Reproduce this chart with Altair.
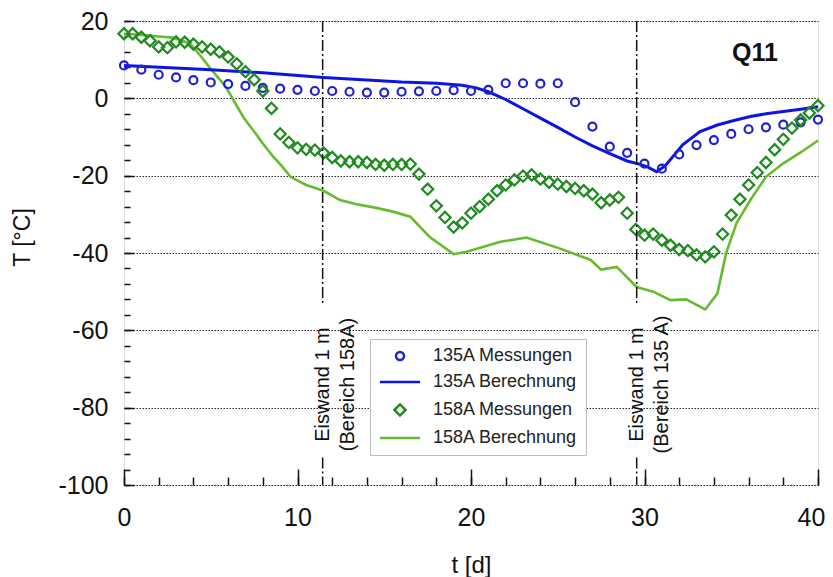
import altair as alt
import pandas as pd

# ---------------- data ----------------
series_names = ["135A Messungen", "135A Berechnung", "158A Messungen", "158A Berechnung"]

t_135_mess = [0, 1, 2, 3, 4, 5, 6, 7, 8, 9, 10, 11, 12, 13, 14, 15, 16, 17, 18, 19, 20,
              21, 22, 23, 24, 25, 26, 27, 28, 29, 30, 31, 32, 33, 34, 35, 36, 37, 38, 39, 40]
T_135_mess = [8.5, 7.4, 6.1, 5.4, 4.7, 4.1, 3.7, 3.2, 2.7, 2.5, 2.2, 1.9, 1.9, 1.7, 1.5, 1.5,
              1.7, 1.8, 1.9, 2.1, 1.9, 2.2, 3.9, 3.9, 3.8, 3.9, -1.0, -7.3, -12.5, -14.1,
              -16.9, -18.2, -14.5, -12.1, -10.8, -9.2, -8.0, -7.5, -6.8, -6.2, -5.5]

t_135_calc = [0, 5, 8, 11.5, 16, 18, 19.5, 20.3, 21, 22, 23, 24, 25, 26, 27, 28, 29, 29.7,
              30.2, 30.7, 31.2, 32.2, 33.2, 34.2, 35.1, 36.1, 37, 38, 39, 40]
T_135_calc = [8.5, 7.4, 6.6, 5.4, 4.2, 3.9, 3.4, 2.7, 1.7, -0.3, -2.7, -5.1, -7.5, -10.0,
              -12.3, -14.3, -16.2, -17.0, -17.8, -19.0, -17.4, -12.0, -8.6, -6.9, -5.8,
              -4.7, -4.0, -3.4, -2.8, -2.2]

t_158_mess = [0, 0.5, 1, 1.5, 2, 2.5, 3, 3.5, 4, 4.5, 5, 5.5, 6, 6.5, 7, 7.5, 8, 8.5, 9, 9.5,
              10, 10.5, 11, 11.5, 12, 12.5, 13, 13.5, 14, 14.5, 15, 15.5, 16, 16.5, 17, 17.5,
              18, 18.5, 19, 19.5, 20, 20.5, 21, 21.5, 22, 22.5, 23, 23.5, 24, 24.5, 25, 25.5,
              26, 26.5, 27, 27.5, 28, 28.5, 29, 29.5, 30, 30.5, 31, 31.5, 32, 32.5, 33, 33.5,
              34, 34.5, 35, 35.5, 36, 36.5, 37, 37.5, 38, 38.5, 39, 39.5, 40]
T_158_mess = [16.7, 16.7, 15.8, 14.9, 13.3, 13.1, 14.6, 14.5, 14.0, 13.3, 12.7, 12.0, 10.7,
              8.9, 6.9, 4.8, 1.9, -2.6, -9.2, -11.4, -12.8, -13.2, -13.4, -14.1, -15.3, -16.2,
              -16.4, -16.4, -16.6, -17.1, -17.3, -17.1, -17.1, -17.0, -19.6, -23.5, -27.8,
              -30.8, -33.3, -32.2, -29.7, -28.0, -26.1, -23.9, -22.4, -21.1, -20.1, -19.8,
              -20.9, -21.7, -22.2, -22.8, -23.3, -23.9, -24.8, -27.0, -26.3, -25.6, -29.7,
              -33.9, -35.4, -35.1, -36.7, -38.0, -39.1, -39.4, -40.5, -41.0, -39.7, -35.1,
              -30.2, -26.1, -22.4, -19.2, -16.6, -13.3, -10.6, -7.7, -5.6, -3.8, -1.9]

t_158_calc = [0, 1, 2, 2.8, 3.8, 4.5, 5.0, 5.9, 6.3, 6.9, 7.65, 8.0, 8.6, 9.0, 9.6, 10.5,
              11.5, 12.45, 13.4, 14.4, 15.5, 16.5, 17.6, 19.0, 19.75, 21.7, 23.2, 25.1, 26.9,
              27.5, 28.4, 29.55, 30.5, 31.5, 32.4, 33.5, 34.2, 34.7, 35.3, 36.1, 37.0, 38.0,
              39.0, 40.0]
T_158_calc = [16.7, 16.4, 16.0, 15.7, 14.2, 10.5, 7.6, 2.8, -0.4, -5.0, -9.5, -11.7, -15.1,
              -17.0, -20.3, -22.4, -23.9, -26.3, -27.4, -28.2, -29.3, -30.6, -35.8, -40.3,
              -39.7, -37.1, -36.0, -38.8, -41.8, -44.3, -43.6, -48.8, -50.0, -52.2, -52.0,
              -54.6, -50.5, -40.1, -32.3, -26.3, -20.3, -16.8, -14.0, -10.9]

# vertical markers "Eiswand 1 m"
marker_t = [11.45, 29.55]
marker_text = ["Eiswand 1 m\n(Bereich 158A)", "Eiswand 1 m\n(Bereich 135 A)"]
marker_text_T = [-74, -74]
marker_seg_top = [20, -53.5]      # upper dash-dot piece (T from, T to)
marker_seg_bottom = [-92.9, -100]  # lower dash-dot piece

x_label_values = [0, 10, 20, 30, 40]
x_minor_values = [0, 2, 4, 6, 8, 10, 12, 14, 16, 18, 20, 22, 24, 26, 28, 30, 32, 34, 36, 38, 40]
y_label_values = [20, 0, -20, -40, -60, -80, -100]
y_minor_values = [20, 16, 12, 8, 4, 0, -4, -8, -12, -16, -20, -24, -28, -32, -36, -40, -44,
                  -48, -52, -56, -60, -64, -68, -72, -76, -80, -84, -88, -92, -96, -100]

# ---------------- tables ----------------
df_135m = pd.DataFrame({"t": t_135_mess, "T": T_135_mess, "series": series_names[0]})
df_135b = pd.DataFrame({"t": t_135_calc, "T": T_135_calc, "series": series_names[1]})
df_158m = pd.DataFrame({"t": t_158_mess, "T": T_158_mess, "series": series_names[2]})
df_158b = pd.DataFrame({"t": t_158_calc, "T": T_158_calc, "series": series_names[3]})
df_points = pd.concat([df_135m, df_158m], ignore_index=True)

seg_rows = []
for tt in marker_t:
    seg_rows.append({"t": tt, "y1": marker_seg_top[0], "y2": marker_seg_top[1]})
    seg_rows.append({"t": tt, "y1": marker_seg_bottom[0], "y2": marker_seg_bottom[1]})
df_seg = pd.DataFrame(seg_rows)
df_mtext = pd.DataFrame({"t": marker_t, "T": marker_text_T, "label": marker_text})
df_q = pd.DataFrame({"t": [36.37], "T": [11.8], "label": ["Q11"]})

FONT = "Liberation Sans"
colors = ["#2222cc", "#0b16e6", "#218a21", "#66bb2e"]
LINE_PATH = "M-5,0L5,0"
DIAMOND_PATH = "M-1.4,0L0,-1.4L1.4,0L0,1.4Z"
shapes = ["circle", LINE_PATH, DIAMOND_PATH, LINE_PATH]

x_scale = alt.Scale(domain=[0, 40], nice=False, zero=False)
y_scale = alt.Scale(domain=[-100, 20], nice=False, zero=False)
color_scale = alt.Scale(domain=series_names, range=colors)
shape_scale = alt.Scale(domain=series_names, range=shapes)

legend = alt.Legend(
    title=None, orient="none", legendX=246, legendY=318,
    strokeColor="#bdbdbd", fillColor="white", padding=8,
    labelFont=FONT, labelFontSize=18, labelColor="#222222", labelLimit=300,
    symbolSize=64, symbolStrokeWidth=2.5, symbolOffset=13, labelOffset=24,
    symbolOpacity=1, rowPadding=8,
)

MINUS_FIX = "replace(datum.label, '\u2212', '-')"

# axes
x_main = alt.Axis(values=x_label_values, ticks=False, domain=False, grid=False,
                  labelFont=FONT, labelFontSize=25, labelColor="#111111", labelPadding=20,
                  labelFlush=False, orient="bottom",
                  labelOffset={"condition": {"test": "datum.value == 40", "value": -7},
                               "value": 0},
                  title="t [d]", titleFont=FONT, titleFontSize=24, titleFontWeight="normal",
                  titleColor="#111111", titleBaseline="middle", titleY=80)
x_major = alt.Axis(values=x_label_values, labels=False, domain=False, grid=False,
                   ticks=True, tickSize=16, offset=-16, tickColor="#111111", tickWidth=1.5,
                   orient="bottom", title=None)
x_minor = alt.Axis(values=x_minor_values, labels=False, domain=False, grid=False,
                   ticks=True, tickSize=8, offset=-8, tickColor="#111111", tickWidth=1.5,
                   orient="bottom", title=None)
y_main = alt.Axis(values=y_label_values, ticks=False, domain=False, grid=True,
                  gridColor="#222222", gridDash=[1.5, 1.5], gridWidth=1,
                  labelFont=FONT, labelFontSize=25, labelColor="#111111", labelPadding=16,
                  labelFlush=False, orient="left", labelExpr=MINUS_FIX,
                  title="T [°C]", titleFont=FONT, titleFontSize=23, titleFontWeight="normal",
                  titleColor="#111111", titleAngle=270, titleBaseline="middle",
                  titleAlign="center", titleX=-102, titleY=216)
y_major = alt.Axis(values=y_label_values, labels=False, domain=False, grid=False,
                   ticks=True, tickSize=10, offset=-10, tickColor="#111111", tickWidth=1.5,
                   orient="left", title=None)
y_minor = alt.Axis(values=y_minor_values, labels=False, domain=False, grid=False,
                   ticks=True, tickSize=6, offset=-6, tickColor="#111111", tickWidth=1.5,
                   orient="left", title=None)

line_158 = alt.Chart(df_158b).mark_line(strokeWidth=2.6, opacity=1).encode(
    x=alt.X("t:Q", scale=x_scale, axis=x_main),
    y=alt.Y("T:Q", scale=y_scale, axis=y_main),
    color=alt.Color("series:N", scale=color_scale, legend=legend),
)
line_135 = alt.Chart(df_135b).mark_line(strokeWidth=3, opacity=1).encode(
    x=alt.X("t:Q", scale=x_scale, axis=x_major),
    y=alt.Y("T:Q", scale=y_scale, axis=y_major),
    color=alt.Color("series:N", scale=color_scale, legend=legend),
)
points = alt.Chart(df_points).mark_point(filled=False, size=64, strokeWidth=2.2,
                                         opacity=1).encode(
    x=alt.X("t:Q", scale=x_scale, axis=x_minor),
    y=alt.Y("T:Q", scale=y_scale, axis=y_minor),
    color=alt.Color("series:N", scale=color_scale, legend=legend),
    shape=alt.Shape("series:N", scale=shape_scale, legend=legend),
)
rules = alt.Chart(df_seg).mark_rule(color="#111111", strokeWidth=1.5,
                                     strokeDash=[11, 3, 2, 3]).encode(
    x=alt.X("t:Q", scale=x_scale, axis=None),
    y=alt.Y("y1:Q", scale=y_scale, axis=None),
    y2="y2:Q",
)
mtext = alt.Chart(df_mtext).mark_text(angle=270, align="center", baseline="middle",
                                       font=FONT, fontSize=20, lineBreak="\n",
                                       lineHeight=25, color="#111111").encode(
    x=alt.X("t:Q", scale=x_scale, axis=None),
    y=alt.Y("T:Q", scale=y_scale, axis=None),
    text="label:N",
)
qtext = alt.Chart(df_q).mark_text(align="center", baseline="middle", font=FONT,
                                   fontSize=25, fontWeight="bold", color="#111111").encode(
    x=alt.X("t:Q", scale=x_scale, axis=None),
    y=alt.Y("T:Q", scale=y_scale, axis=None),
    text="label:N",
)

chart = alt.layer(line_158, line_135, points, rules, mtext, qtext).resolve_axis(
    x="independent", y="independent"
).properties(
    width=694, height=464,
    autosize=alt.AutoSizeParams(type="none"),
    padding={"left": 116, "top": 13, "right": 7, "bottom": 92},
).configure_view(stroke="#111111", strokeWidth=1.5).configure(background="white")

chart.save("out.html", embed_options={"renderer": "svg", "actions": False})
